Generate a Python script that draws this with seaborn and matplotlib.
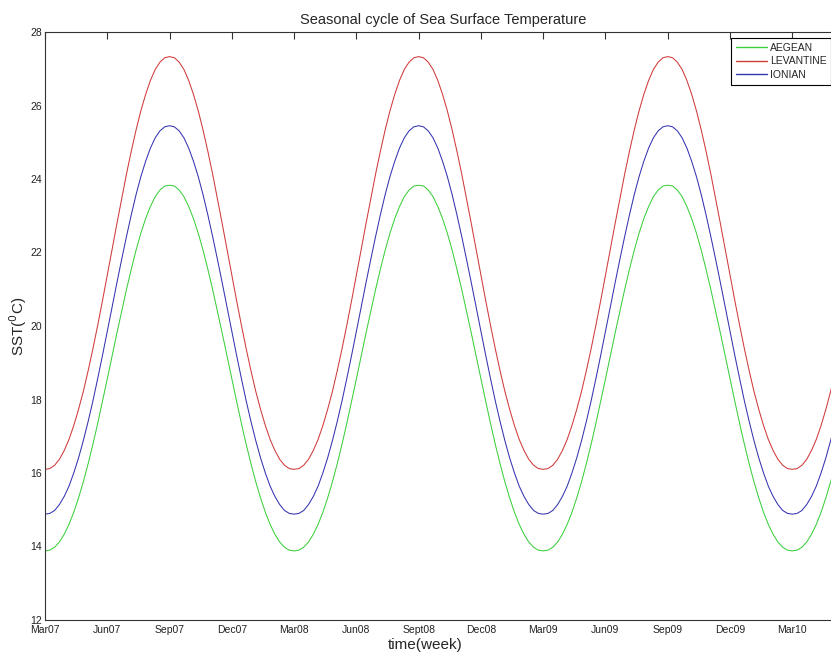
import numpy as np
import pandas as pd
import matplotlib
matplotlib.use('Agg')
import matplotlib.pyplot as plt
from matplotlib.lines import Line2D
import seaborn as sns

# one seasonal cycle, weekly values starting at the beginning of March
aegean_cycle = [13.88, 13.90, 13.98, 14.12, 14.33, 14.60, 14.93, 15.32, 15.76, 16.25, 16.78, 17.35, 17.95,
                18.56, 19.18, 19.80, 20.40, 20.99, 21.54, 22.06, 22.52, 22.92, 23.25, 23.52, 23.70, 23.81,
                23.83, 23.81, 23.70, 23.52, 23.25, 22.92, 22.52, 22.06, 21.54, 20.99, 20.40, 19.80, 19.18,
                18.56, 17.95, 17.35, 16.78, 16.25, 15.76, 15.32, 14.93, 14.60, 14.33, 14.12, 13.98, 13.90]
levantine_cycle = [16.10, 16.12, 16.21, 16.37, 16.61, 16.91, 17.29, 17.73, 18.22, 18.78, 19.38, 20.02, 20.69,
                   21.38, 22.08, 22.78, 23.46, 24.13, 24.75, 25.33, 25.85, 26.30, 26.68, 26.98, 27.18, 27.30,
                   27.33, 27.30, 27.18, 26.98, 26.68, 26.30, 25.85, 25.33, 24.75, 24.13, 23.46, 22.78, 22.08,
                   21.38, 20.69, 20.02, 19.38, 18.78, 18.22, 17.73, 17.29, 16.91, 16.61, 16.37, 16.21, 16.12]
ionian_cycle = [14.88, 14.90, 14.98, 15.14, 15.36, 15.64, 16.00, 16.41, 16.88, 17.40, 17.96, 18.57, 19.20,
                19.85, 20.51, 21.17, 21.81, 22.43, 23.02, 23.57, 24.06, 24.48, 24.84, 25.12, 25.31, 25.42,
                25.45, 25.42, 25.31, 25.12, 24.84, 24.48, 24.06, 23.57, 23.02, 22.43, 21.81, 21.17, 20.51,
                19.85, 19.20, 18.57, 17.96, 17.40, 16.88, 16.41, 16.00, 15.64, 15.36, 15.14, 14.98, 14.90]

n_weeks = 168
regions = ['AEGEAN', 'LEVANTINE', 'IONIAN']
colors = ['#3ccf3c', '#d03a3a', '#3434b0']
tick_labels = ['Mar07', 'Jun07', 'Sep07', 'Dec07', 'Mar08', 'Jun08', 'Sept08', 'Dec08',
               'Mar09', 'Jun09', 'Sep09', 'Dec09', 'Mar10']

# the climatology is repeated for every year of the record
weeks = np.arange(n_weeks)
frames = []
for name, cyc in zip(regions, [aegean_cycle, levantine_cycle, ionian_cycle]):
    vals = np.tile(cyc, 4)[:n_weeks]
    frames.append(pd.DataFrame({'week': weeks, 'sst': vals, 'region': name}))
df = pd.concat(frames, ignore_index=True)

sns.set_style('white')
plt.rcParams['font.family'] = ['Liberation Sans', 'DejaVu Sans']

fig = plt.figure(figsize=(8.31, 6.52), dpi=100)
ax = fig.add_axes([45 / 831, 32 / 652, 800 / 831, 588 / 652])
sns.lineplot(data=df, x='week', y='sst', hue='region', hue_order=regions,
             palette=colors, linewidth=0.75, ax=ax, legend=False)

ax.set_xlim(0, 167)
ax.set_ylim(12, 28)
ax.set_xticks(np.arange(0, 13 * 13, 13))
ax.set_xticklabels(tick_labels)
ax.set_yticks(np.arange(12, 29, 2))
ax.tick_params(direction='in', length=5, width=0.8, top=True, right=True,
               labelsize=7.5, labelcolor='#222222', pad=2, color='#333333')
ax.tick_params(axis='x', pad=3.5)
for s in ax.spines.values():
    s.set_color('#333333')
    s.set_linewidth(0.8)

ax.set_title('Seasonal cycle of Sea Surface Temperature', fontsize=10.5, pad=6, x=(443 - 45) / 800)
ax.set_xlabel('time(week)', fontsize=11)
ax.set_ylabel(r'SST($^0$C)', fontsize=11, va='center')
ax.xaxis.set_label_coords((425 - 45) / 800, -0.03)
ax.yaxis.set_label_coords((18 - 45) / 800, 0.5)

handles = [Line2D([], [], color=c, linewidth=1.0) for c in colors]
leg = ax.legend(handles, regions, loc='upper left', bbox_to_anchor=(731 / 831, 1 - 38 / 652),
                bbox_transform=fig.transFigure, borderaxespad=0, fontsize=7.5,
                fancybox=False, edgecolor='black', framealpha=1, handlelength=3,
                handletextpad=0.3, labelspacing=0.35, borderpad=0.45)
leg.get_frame().set_linewidth(0.8)

fig.savefig('out.png', dpi=100)
